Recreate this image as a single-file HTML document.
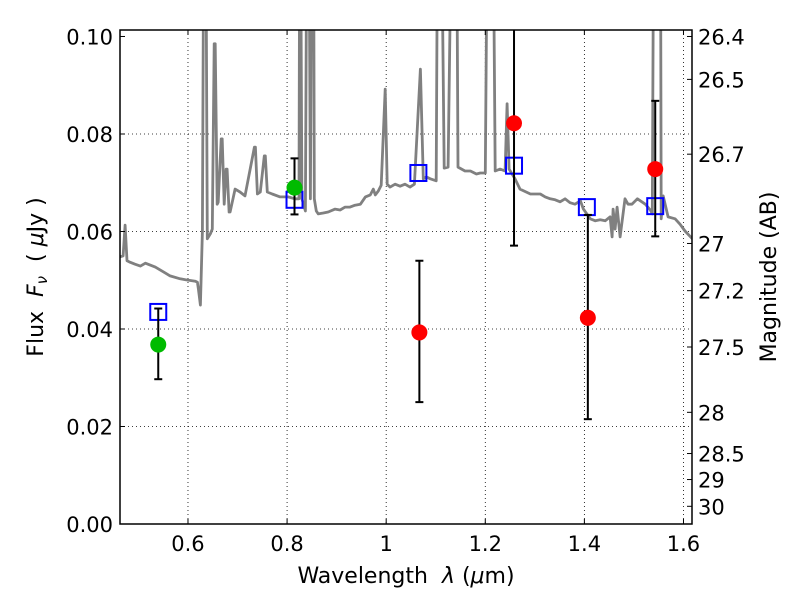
<!DOCTYPE html>
<html><head><meta charset="utf-8"><style>
html,body{margin:0;padding:0;background:#fff;}
svg text{font-family:"DejaVu Sans","Liberation Sans",sans-serif;}
</style></head><body>
<svg id="chart" width="800" height="600" xmlns="http://www.w3.org/2000/svg">
<rect width="800" height="600" fill="#fff"/>
<g id="grid"></g>
<g id="plot"></g>
<g id="axes"></g>
<text x="406" y="583" font-size="22" text-anchor="middle">Wavelength&#160;&#160;<tspan font-style="italic">λ</tspan>&#160;(<tspan font-style="italic">μ</tspan>m)</text>
<text transform="translate(43,277) rotate(-90)" font-size="22" text-anchor="middle">Flux&#160;&#160;<tspan font-style="italic">F</tspan><tspan font-style="italic" font-size="15" dy="4">ν</tspan><tspan dy="-4">&#160;&#160;(&#160;</tspan><tspan font-style="italic">μ</tspan>Jy&#160;)</text>
<text transform="translate(776,277) rotate(-90)" font-size="22" text-anchor="middle">Magnitude (AB)</text>
</svg>
<script>
const specLam=[0.463,0.469,0.473,0.477,0.483,0.493,0.504,0.514,0.534,0.554,0.564,0.584,0.595,0.615,0.619,0.621,0.625,0.629,0.633,0.635,0.639,0.645,0.649,0.653,0.655,0.659,0.661,0.667,0.669,0.673,0.677,0.679,0.683,0.685,0.695,0.705,0.715,0.734,0.736,0.740,0.746,0.754,0.756,0.760,0.770,0.786,0.802,0.816,0.824,0.826,0.830,0.837,0.841,0.843,0.847,0.851,0.853,0.855,0.859,0.863,0.873,0.883,0.897,0.907,0.917,0.927,0.937,0.948,0.958,0.968,0.974,0.978,0.984,0.990,0.998,1.002,1.008,1.018,1.028,1.038,1.048,1.057,1.069,1.075,1.081,1.089,1.101,1.105,1.109,1.117,1.125,1.135,1.141,1.145,1.159,1.170,1.182,1.190,1.200,1.206,1.214,1.220,1.230,1.240,1.244,1.248,1.260,1.270,1.291,1.311,1.321,1.331,1.341,1.351,1.361,1.371,1.381,1.392,1.398,1.412,1.422,1.432,1.442,1.452,1.456,1.458,1.462,1.466,1.472,1.482,1.488,1.496,1.507,1.523,1.533,1.537,1.541,1.547,1.553,1.555,1.559,1.569,1.583,1.593,1.603,1.618];
const specFlux=[0.0548,0.0550,0.0613,0.0540,0.0537,0.0533,0.0529,0.0535,0.0527,0.0515,0.0509,0.0503,0.0501,0.0498,0.0496,0.0482,0.0449,0.0600,0.1500,0.1500,0.0585,0.0595,0.0605,0.0985,0.0985,0.0656,0.0660,0.0790,0.0790,0.0656,0.0728,0.0728,0.0640,0.0640,0.0687,0.0681,0.0673,0.0773,0.0773,0.0677,0.0681,0.0755,0.0755,0.0681,0.0677,0.0671,0.0671,0.0667,0.0667,0.1500,0.0667,0.0642,0.1500,0.1500,0.0667,0.1500,0.1500,0.0667,0.0642,0.0636,0.0638,0.0640,0.0646,0.0644,0.0650,0.0650,0.0654,0.0656,0.0671,0.0675,0.0687,0.0675,0.0683,0.0695,0.0892,0.0697,0.0691,0.0697,0.0693,0.0697,0.0691,0.0697,0.0933,0.0708,0.0712,0.0708,0.0704,0.1500,0.1500,0.0730,0.0732,0.1500,0.1500,0.0732,0.0724,0.0724,0.0718,0.0720,0.0720,0.1500,0.1500,0.0724,0.0728,0.0724,0.0862,0.0728,0.0708,0.0687,0.0677,0.0677,0.0671,0.0667,0.0665,0.0661,0.0667,0.0659,0.0656,0.0663,0.0646,0.0626,0.0622,0.0624,0.0622,0.0630,0.0589,0.0646,0.0605,0.0650,0.0589,0.0667,0.0656,0.0656,0.0667,0.0656,0.0644,0.0636,0.1500,0.1500,0.1500,0.0626,0.0673,0.0630,0.0626,0.0615,0.0601,0.0585];
const bandLam=[0.540,0.815,1.065,1.258,1.405,1.543];
const modelFlux=[0.0435,0.0665,0.0720,0.0735,0.0650,0.0652];
const greenLam=[0.540,0.815];
const greenFlux=[0.0368,0.0690];
const greenLo=[0.0297,0.0635];
const greenHi=[0.0442,0.0750];
const redLam=[1.067,1.258,1.407,1.543];
const redFlux=[0.0393,0.0822,0.0423,0.0728];
const redLo=[0.0250,0.0571,0.0215,0.0590];
const redHi=[0.0540,0.1200,0.0634,0.0868];
const xTicks=[0.6,0.8,1.0,1.2,1.4,1.6];
const xTickLabels=["0.6","0.8","1","1.2","1.4","1.6"];
const yTicks=[0,0.02,0.04,0.06,0.08,0.10];
const yTickLabels=["0.00","0.02","0.04","0.06","0.08","0.10"];
const magTicks=[26.4,26.5,26.7,27,27.2,27.5,28,28.5,29,30];
const magTickLabels=["26.4","26.5","26.7","27","27.2","27.5","28","28.5","29","30"];

const L=120,R=692,T=30,B=524;
const xMin=0.4628,xMax=1.6172,yMin=0,yMax=0.10133;
const sx=v=>L+(v-xMin)/(xMax-xMin)*(R-L);
const sy=v=>B-(v-yMin)/(yMax-yMin)*(B-T);
const NS="http://www.w3.org/2000/svg";
function mk(tag,attrs,parent){const e=document.createElementNS(NS,tag);for(const k in attrs)e.setAttribute(k,attrs[k]);parent.appendChild(e);return e;}
const grid=document.getElementById('grid'),plot=document.getElementById('plot'),axes=document.getElementById('axes');

const defs=mk('defs',{},plot);
const cp=mk('clipPath',{id:'clip'},defs);
mk('rect',{x:L,y:T,width:R-L,height:B-T},cp);

xTicks.forEach((t,i)=>{
  const g=mk('line',{x1:sx(t),x2:sx(t),y1:T,y2:B,stroke:'#000','stroke-width':0.8,'stroke-dasharray':'1,3'},grid);
  
  
  mk('line',{x1:sx(t),x2:sx(t),y1:B,y2:B-5,stroke:'#000'},axes);
  mk('line',{x1:sx(t),x2:sx(t),y1:T,y2:T+5,stroke:'#000'},axes);
  const tx=mk('text',{x:sx(t),y:B+27,'font-size':21,'text-anchor':'middle'},axes);
  tx.textContent=xTickLabels[i];
  
  
});
yTicks.forEach((t,i)=>{
  if(t>0&&t<0.1){
    const g=mk('line',{x1:L,x2:R,y1:sy(t),y2:sy(t),stroke:'#000','stroke-width':0.8,'stroke-dasharray':'1,3'},grid);
    
    
  }
  mk('line',{x1:L,x2:L+5,y1:sy(t),y2:sy(t),stroke:'#000'},axes);
  const tx=mk('text',{x:L-7,y:sy(t)+8,'font-size':21,'text-anchor':'end'},axes);
  tx.textContent=yTickLabels[i];
  
  
});
magTicks.forEach((m,i)=>{
  const f=Math.pow(10,(23.9-m)/2.5);
  const y=sy(f);
  mk('line',{x1:R,x2:R-5,y1:y,y2:y,stroke:'#000'},axes);
  const tx=mk('text',{x:R+6,y:y+8,'font-size':21,'text-anchor':'start'},axes);
  tx.textContent=magTickLabels[i];
  
  
});

const pts=specLam.map((l,i)=>sx(l).toFixed(1)+','+sy(specFlux[i]).toFixed(1)).join(' ');
const sp=mk('polyline',{points:pts,fill:'none',stroke:'#808080','stroke-width':2.8,'clip-path':'url(#clip)','stroke-linejoin':'round'},plot);



function errbar(x,lo,hi){
  const g=mk('g',{'clip-path':'url(#clip)'},plot);
  
  
  mk('line',{x1:sx(x),x2:sx(x),y1:sy(lo),y2:sy(hi),stroke:'#000','stroke-width':2},g);
  mk('line',{x1:sx(x)-4,x2:sx(x)+4,y1:sy(lo),y2:sy(lo),stroke:'#000','stroke-width':2},g);
  mk('line',{x1:sx(x)-4,x2:sx(x)+4,y1:sy(hi),y2:sy(hi),stroke:'#000','stroke-width':2},g);
}
bandLam.forEach((l,i)=>{
  const r=mk('rect',{x:sx(l)-8,y:sy(modelFlux[i])-8,width:16,height:16,fill:'none',stroke:'#0000ff','stroke-width':2},plot);
  
  
});
greenLam.forEach((l,i)=>{
  errbar(l,greenLo[i],greenHi[i]);
  const c=mk('circle',{cx:sx(l),cy:sy(greenFlux[i]),r:8,fill:'#00bb00'},plot);
  
  
});
redLam.forEach((l,i)=>{
  errbar(l,redLo[i],redHi[i]);
  const c=mk('circle',{cx:sx(l),cy:sy(redFlux[i]),r:8,fill:'#ff0000'},plot);
  
  
});
const frame=mk('rect',{x:L,y:T,width:R-L,height:B-T,fill:'none',stroke:'#000','stroke-width':1.5},axes);


</script>
</body></html>
